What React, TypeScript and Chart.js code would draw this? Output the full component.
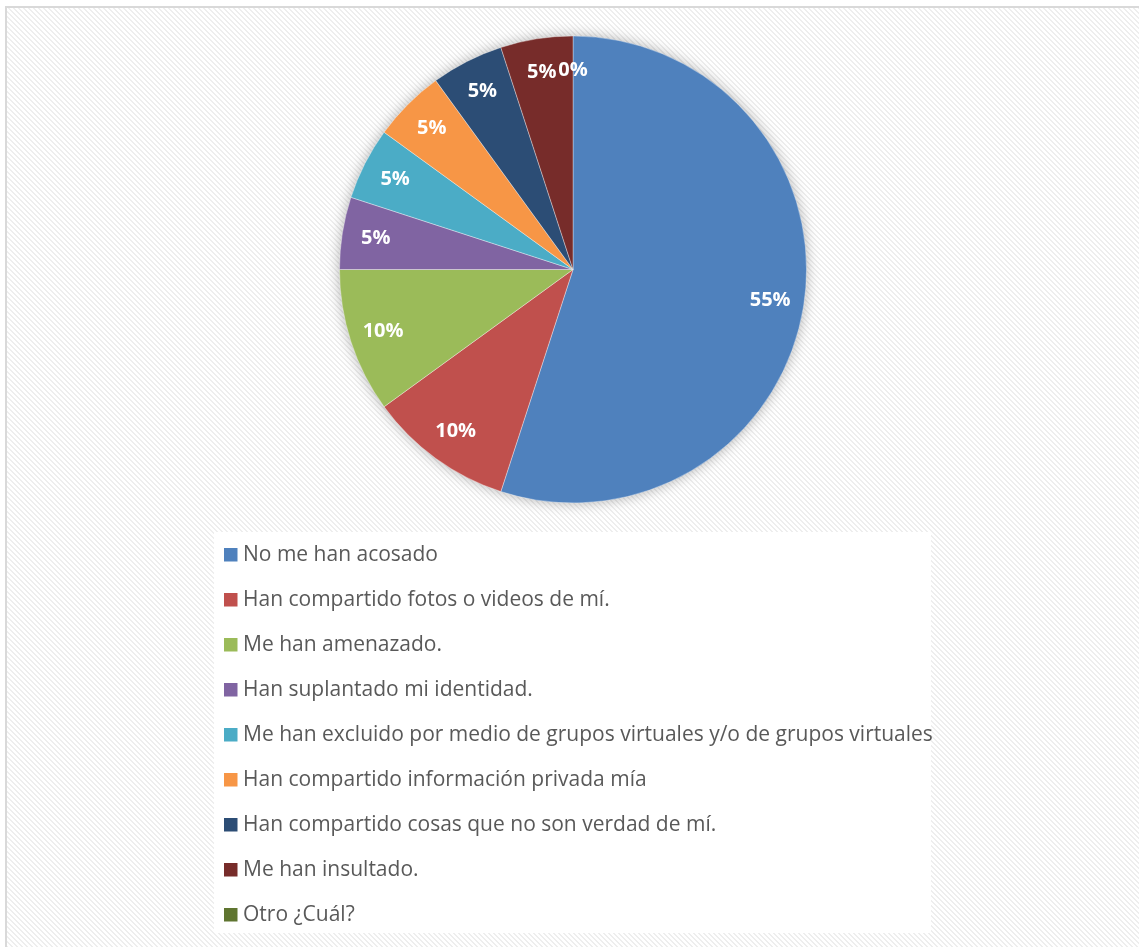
import React, { useEffect, useRef } from "react";
import { Chart, registerables } from "chart.js";

Chart.register(...registerables);

const categories = [
  "No me han acosado",
  "Han compartido fotos o videos de mí.",
  "Me han amenazado.",
  "Han suplantado mi identidad.",
  "Me han excluido por medio de grupos virtuales y/o de grupos virtuales",
  "Han compartido información privada mía",
  "Han compartido cosas que no son verdad de mí.",
  "Me han insultado.",
  "Otro ¿Cuál?",
];
const percentages = [55, 10, 10, 5, 5, 5, 5, 5, 0];
const sliceColors = [
  "#4F81BD",
  "#C0504D",
  "#9BBB59",
  "#8064A2",
  "#4BACC6",
  "#F79646",
  "#2C4D75",
  "#772C2A",
  "#5F7530",
];

const backgroundPlugin = {
  id: "hatchBackground",
  beforeDraw(chart: any) {
    const ctx = chart.ctx;
    const tile = document.createElement("canvas");
    tile.width = 5;
    tile.height = 5;
    const t = tile.getContext("2d") as CanvasRenderingContext2D;
    t.fillStyle = "#ffffff";
    t.fillRect(0, 0, 5, 5);
    t.fillStyle = "#eeeeee";
    for (let y = 0; y < 5; y++) {
      for (let x = 0; x < 5; x++) {
        if ((x - y + 50) % 5 < 2) t.fillRect(x, y, 1, 1);
      }
    }
    const pattern = ctx.createPattern(tile, "repeat");
    ctx.save();
    ctx.fillStyle = "#ffffff";
    ctx.fillRect(0, 0, chart.width, chart.height);
    ctx.fillStyle = "#d9d9d9";
    ctx.fillRect(5, 6, chart.width, 2);
    ctx.fillRect(5, 6, 2, chart.height);
    ctx.fillStyle = pattern;
    ctx.fillRect(7, 8, chart.width, chart.height);
    ctx.restore();
  },
};

const shadowPlugin = {
  id: "pieShadow",
  beforeDatasetsDraw(chart: any) {
    const meta = chart.getDatasetMeta(0);
    const arc = meta.data[0];
    if (!arc) return;
    const { x, y, outerRadius } = arc.getProps(["x", "y", "outerRadius"], true);
    const ctx = chart.ctx;
    ctx.save();
    ctx.shadowColor = "rgba(0,0,0,0.35)";
    ctx.shadowBlur = 14;
    ctx.fillStyle = "#ffffff";
    ctx.beginPath();
    ctx.arc(x, y, outerRadius - 1, 0, Math.PI * 2);
    ctx.fill();
    ctx.restore();
  },
};

const labelPlugin = {
  id: "sliceLabels",
  afterDatasetsDraw(chart: any) {
    const meta = chart.getDatasetMeta(0);
    const ctx = chart.ctx;
    ctx.save();
    ctx.font = "bold 20px 'Open Sans', sans-serif";
    ctx.fillStyle = "#ffffff";
    ctx.textAlign = "center";
    ctx.textBaseline = "middle";
    meta.data.forEach((arc: any, i: number) => {
      const { x, y, startAngle, endAngle, outerRadius } = arc.getProps(
        ["x", "y", "startAngle", "endAngle", "outerRadius"],
        true
      );
      const mid = (startAngle + endAngle) / 2;
      const d = outerRadius * 0.855;
      ctx.fillText(percentages[i] + "%", x + Math.cos(mid) * d, y + Math.sin(mid) * d);
    });
    ctx.restore();
  },
};

const legendPlugin = {
  id: "listLegend",
  afterDraw(chart: any) {
    const ctx = chart.ctx;
    ctx.save();
    ctx.fillStyle = "#ffffff";
    ctx.fillRect(214, 532, 717, 401);
    ctx.font = "21px 'Open Sans', sans-serif";
    ctx.textBaseline = "middle";
    ctx.textAlign = "left";
    categories.forEach((label, i) => {
      const cy = 555 + i * 45;
      ctx.fillStyle = sliceColors[i];
      ctx.fillRect(224, cy - 7, 13.5, 13.5);
      ctx.fillStyle = "#595959";
      ctx.fillText(label, 243, cy);
    });
    ctx.restore();
  },
};

export default function App() {
  const ref = useRef<HTMLCanvasElement | null>(null);
  useEffect(() => {
    if (!ref.current) return;
    const chart = new Chart(ref.current, {
      type: "pie",
      data: {
        labels: categories,
        datasets: [
          {
            data: percentages,
            backgroundColor: sliceColors,
            borderColor: "rgba(255,255,255,0.35)",
            borderWidth: 1,
          },
        ],
      },
      options: {
        responsive: false,
        animation: false,
        layout: { padding: { left: 339, right: 332, top: 35, bottom: 443 } },
        plugins: {
          legend: { display: false },
          tooltip: { enabled: false },
        },
      },
      plugins: [backgroundPlugin, shadowPlugin, labelPlugin, legendPlugin],
    });
    return () => chart.destroy();
  }, []);
  return (
    <div style={{ position: "fixed", left: 0, top: 0, width: 1139, height: 947, overflow: "hidden", background: "#ffffff" }}>
      <canvas ref={ref} width={1139} height={947} style={{ position: "absolute", left: 0, top: 0 }} />
    </div>
  );
}
